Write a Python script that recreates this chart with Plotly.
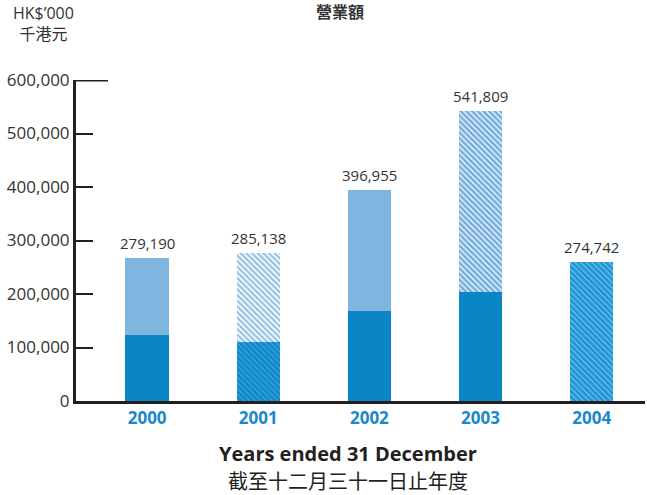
import plotly.graph_objects as go

# ---- data ----
years = ["2000", "2001", "2002", "2003", "2004"]
lower_values = [123000, 110000, 168000, 204000, 260000]
upper_values = [144000, 166000, 226000, 338000, 0]
total_labels = ["279,190", "285,138", "396,955", "541,809", "274,742"]
y_ticks = [0, 100000, 200000, 300000, 400000, 500000, 600000]
y_tick_text = ["0", "100,000", "200,000", "300,000", "400,000", "500,000", "600,000"]

# per-segment styles: (base colour, stripe colour or None, stripe solidity)
lower_styles = [("#0a86c6", None, 0), ("#0d89ca", "#3fa3dc", 0.3), ("#0a86c6", None, 0),
                ("#0a86c6", None, 0), ("#1c94d4", "#6cbde9", 0.35)]
upper_styles = [("#7fb5df", None, 0), ("#93c2e8", "#ffffff", 0.45), ("#7fb5df", None, 0),
                ("#74aedd", "#ffffff", 0.3), ("#7fb5df", None, 0)]

x = list(range(len(years)))
totals = [a + b for a, b in zip(lower_values, upper_values)]

AXIS = "#231f20"
TEXT = "#333333"
BLUE = "#1a88c9"

fig = go.Figure()
for values, styles in ((lower_values, lower_styles), (upper_values, upper_styles)):
    for style in dict.fromkeys(styles):
        base, stripe, sol = style
        ys = [v if s == style else None for v, s in zip(values, styles)]
        marker = dict(color=base, line=dict(width=0))
        if stripe:
            marker["pattern"] = dict(shape="\\", bgcolor=base, fgcolor=stripe, fgopacity=1,
                                     size=4, solidity=sol, fillmode="replace")
        fig.add_trace(go.Bar(x=x, y=ys, width=0.39, marker=marker,
                             hoverinfo="skip", showlegend=False))

annotations = []
for xi, t, lab in zip(x, totals, total_labels):
    annotations.append(dict(x=xi, y=t, xref="x", yref="y", text=lab, showarrow=False,
                            yanchor="middle", yshift=15,
                            font=dict(family="Open Sans", size=15, color=TEXT)))

L, R, T, B = 76, 2, 80, 94
W, H = 647, 495
pw, ph = W - L - R, H - T - B

def px(xp):
    return (xp - L) / pw

def py(yp):
    return (H - B - yp) / ph

annotations += [
    dict(x=px(340), y=py(11), xref="paper", yref="paper", text="<b>營業額</b>", showarrow=False,
         xanchor="center", yanchor="middle",
         font=dict(family="Noto Sans CJK TC", size=16, color=TEXT)),
    dict(x=px(43), y=py(23), xref="paper", yref="paper",
         text="HK$’000<br>千港元", showarrow=False,
         xanchor="center", yanchor="middle",
         font=dict(family="Open Sans, Noto Sans CJK TC", size=16, color=TEXT)),
    dict(x=px(348), y=py(453), xref="paper", yref="paper",
         text="<b>Years ended 31 December</b>",
         showarrow=False, xanchor="center", yanchor="middle",
         font=dict(family="Open Sans", size=20, color="#231f20")),
    dict(x=px(348), y=py(480), xref="paper", yref="paper",
         text="截至十二月三十一日止年度",
         showarrow=False, xanchor="center", yanchor="middle",
         font=dict(family="Noto Sans CJK TC", size=20, color="#231f20")),
]

fig.update_layout(
    width=W, height=H,
    margin=dict(l=L, r=R, t=T, b=B, pad=0),
    plot_bgcolor="white", paper_bgcolor="white",
    barmode="stack",
    annotations=annotations,
    shapes=[dict(type="line", xref="x domain", yref="y", x0=0, x1=32 / pw,
                 y0=600000, y1=600000, line=dict(color=AXIS, width=3))],
    xaxis=dict(range=[-0.64, 4.48], tickvals=x, ticktext=years, showgrid=False,
               zeroline=False, showline=True, linecolor=AXIS, linewidth=3, ticks="",
               tickfont=dict(family="Open Sans", size=17, color=BLUE, weight="bold")),
    yaxis=dict(range=[0, 600000], tickvals=y_ticks, ticktext=y_tick_text, showgrid=False,
               zeroline=False, showline=True, linecolor=AXIS, linewidth=3,
               ticks="inside", ticklen=17, tickwidth=2, tickcolor=AXIS,
               tickfont=dict(family="Open Sans", size=17, color=TEXT)),
)

fig.write_html("out.html", config={"displayModeBar": False},
               post_script="document.body.style.margin='0';")
